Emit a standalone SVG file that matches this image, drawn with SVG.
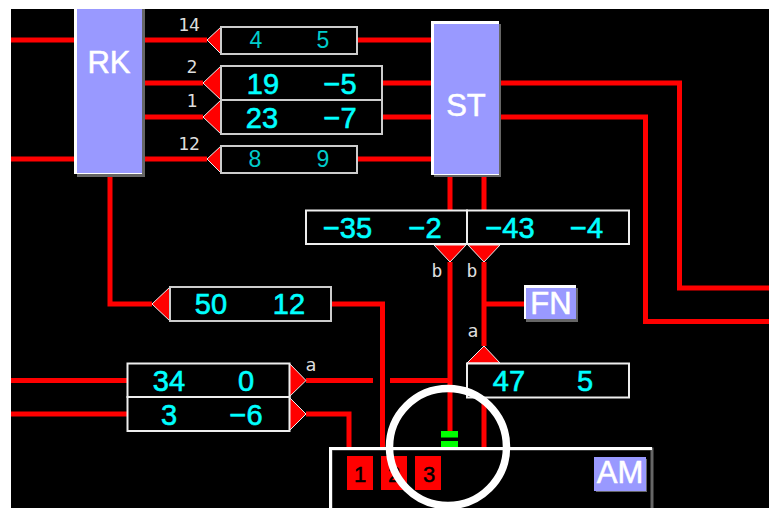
<svg xmlns="http://www.w3.org/2000/svg" width="769" height="508" viewBox="0 0 769 508">
<style>
text{font-family:"Liberation Sans",Arial,sans-serif;text-anchor:middle}
.w{fill:none;stroke:#f00;stroke-width:5}
.b{fill:#000;stroke:#ccc;stroke-width:2}
.bb{fill:#000;stroke:#eee;stroke-width:2}
.t{fill:#f00;stroke:#eee;stroke-width:1}
.v{fill:#0ff;stroke:#0ff;stroke-width:.6;font-size:29px}
.s{fill:#0cc;font-size:23px}
.l{fill:#ddd;font-family:"DejaVu Sans Mono","Liberation Mono",monospace;font-size:18px}
.f{fill:#99f}
.hi{fill:#fff}
.sh{fill:#666}
.n{fill:#fff;stroke:#fff;stroke-width:.5;font-size:31px}
.p{fill:#f00}
.k{fill:#000;stroke:#000;stroke-width:.5;font-size:22px}
</style>
<rect x="0" y="0" width="769" height="508" fill="#fff"/>
<rect x="11" y="9" width="758" height="499" fill="#000"/>
<g id="connectors">
<path class="w" d="M11 40H76M144 40H207M357 40H432"/>
<path class="w" d="M144 83H203M382 83H432M144 117H203M382 117H432"/>
<path class="w" d="M11 159H76M144 159H207M357 159H432"/>
<path class="w" d="M500 83H679.500V288H769M500 117H645.500V321.500H769"/>
<path class="w" d="M450 176V210M484 176V210"/>
<path class="w" d="M110 176V304H152M331 304H382.500V447"/>
<path class="w" d="M11 380.500H127M11 414H127M306 380.500H373M390 380.500H450M306 414H349V447"/>
<path class="w" d="M450 262V431M484 262V346M484 304H524M484 398V447"/>
<rect x="441" y="431" width="17" height="6.500" fill="#0f0"/>
<rect x="441" y="441" width="17" height="6" fill="#0f0"/>
</g>
<g id="RK">
<rect class="sh" x="77" y="9" width="68" height="168"/>
<rect class="hi" x="74" y="9" width="68" height="165"/>
<rect class="f" x="77" y="9" width="65" height="164"/>
<text class="n" x="109" y="73">RK</text>
</g>
<g id="ST">
<rect class="sh" x="434" y="24" width="67" height="153"/>
<rect class="hi" x="431" y="21" width="68" height="154"/>
<rect class="f" x="434" y="24" width="65" height="150"/>
<text class="n" x="466" y="116">ST</text>
</g>
<g id="flow-14">
<polygon class="t" points="207,40 221,27 221,54"/>
<rect class="b" x="221" y="27" width="136" height="27"/>
<text class="s" x="256" y="48">4</text><text class="s" x="323" y="48">5</text>
<text class="l" x="189" y="31">14</text>
</g>
<g id="flow-2">
<polygon class="t" points="203,83 221,66 221,100"/>
<rect class="b" x="221" y="66" width="161" height="34"/>
<text class="v" x="263" y="94">19</text><text class="v" x="340" y="94">−5</text>
<text class="l" x="192" y="73">2</text>
</g>
<g id="flow-1">
<polygon class="t" points="203,117 221,100 221,134"/>
<rect class="b" x="221" y="100" width="161" height="34"/>
<text class="v" x="262" y="128">23</text><text class="v" x="340" y="128">−7</text>
<text class="l" x="192" y="107">1</text>
</g>
<g id="flow-12">
<polygon class="t" points="207,159 221,146 221,173"/>
<rect class="b" x="221" y="146" width="136" height="27"/>
<text class="s" x="255" y="167">8</text><text class="s" x="323" y="167">9</text>
<text class="l" x="189" y="150">12</text>
</g>
<g id="flow-35">
<polygon class="t" points="450,262 434,245 466,245"/>
<rect class="bb" x="306" y="210.500" width="161" height="33.500"/>
<text class="v" x="347.500" y="238">−35</text><text class="v" x="425" y="238">−2</text>
<text class="l" x="437" y="277">b</text>
</g>
<g id="flow-43">
<polygon class="t" points="484,262 468,245 500,245"/>
<rect class="bb" x="467" y="210.500" width="162" height="33.500"/>
<text class="v" x="510" y="238">−43</text><text class="v" x="586.500" y="238">−4</text>
<text class="l" x="472" y="277">b</text>
</g>
<g id="FN">
<rect class="sh" x="526" y="288" width="52" height="34"/>
<rect class="hi" x="524" y="285" width="52" height="34"/>
<rect class="f" x="526" y="288" width="50" height="31"/>
<text class="n" x="551" y="314">FN</text>
</g>
<g id="flow-47">
<polygon class="t" points="484,346 467,363 500,363"/>
<rect class="bb" x="467" y="363.500" width="162" height="34"/>
<text class="v" x="509" y="391">47</text><text class="v" x="585" y="391">5</text>
<text class="l" x="473" y="337">a</text>
</g>
<g id="flow-50">
<polygon class="t" points="152,304 170,287 170,321"/>
<rect class="b" x="170" y="287" width="161" height="34"/>
<text class="v" x="211" y="314">50</text><text class="v" x="289" y="314">12</text>
</g>
<g id="flow-34">
<polygon class="t" points="306,380.500 289,363 289,397"/>
<rect class="bb" x="127.500" y="363.500" width="162" height="33.500"/>
<text class="v" x="169" y="391">34</text><text class="v" x="246" y="391">0</text>
<text class="l" x="311" y="371">a</text>
</g>
<g id="flow-3">
<polygon class="t" points="306,414 289,397 289,431"/>
<rect class="bb" x="127.500" y="397" width="162" height="34"/>
<text class="v" x="169" y="425">3</text><text class="v" x="246" y="425">−6</text>
</g>
<g id="AM">
<path d="M331 508V449H652V508" fill="#000" stroke="#666" stroke-width="3"/>
<path d="M330.500 508V448.500H652" fill="none" stroke="#fff" stroke-width="3"/>
<rect class="p" x="347" y="456" width="26" height="34"/><text class="k" x="360" y="482">1</text>
<rect class="p" x="381" y="456" width="26" height="34"/><text class="k" x="394" y="482">2</text>
<rect class="p" x="415" y="456" width="26" height="34"/><text class="k" x="429" y="482">3</text>
<rect class="sh" x="596" y="459" width="51" height="33"/>
<rect class="f" x="594" y="457" width="52" height="34"/>
<text class="n" x="620" y="483">AM</text>
</g>
<circle cx="448" cy="447" r="58.500" fill="none" stroke="#fff" stroke-width="7.500"/>
</svg>
